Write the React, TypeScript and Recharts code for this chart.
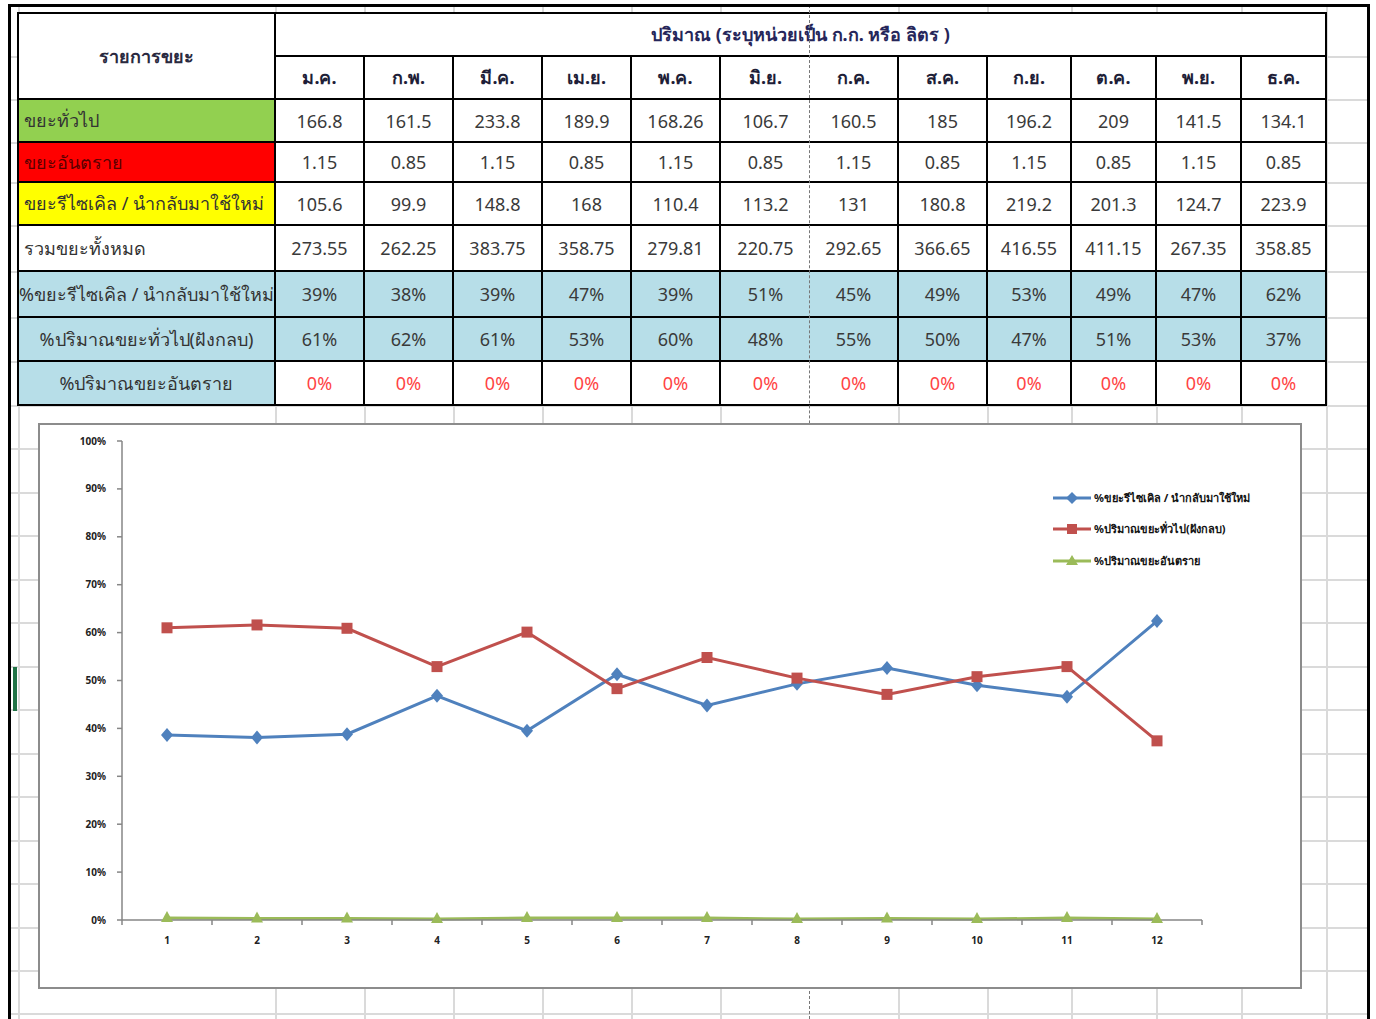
import { LineChart, Line, XAxis, YAxis } from 'recharts'

const months = ['ม.ค.', 'ก.พ.', 'มี.ค.', 'เม.ย.', 'พ.ค.', 'มิ.ย.', 'ก.ค.', 'ส.ค.', 'ก.ย.', 'ต.ค.', 'พ.ย.', 'ธ.ค.']
const generalKg = ['166.8', '161.5', '233.8', '189.9', '168.26', '106.7', '160.5', '185', '196.2', '209', '141.5', '134.1']
const hazardKg = ['1.15', '0.85', '1.15', '0.85', '1.15', '0.85', '1.15', '0.85', '1.15', '0.85', '1.15', '0.85']
const recycleKg = ['105.6', '99.9', '148.8', '168', '110.4', '113.2', '131', '180.8', '219.2', '201.3', '124.7', '223.9']
const totalKg = ['273.55', '262.25', '383.75', '358.75', '279.81', '220.75', '292.65', '366.65', '416.55', '411.15', '267.35', '358.85']
const recycleLabels = ['39%', '38%', '39%', '47%', '39%', '51%', '45%', '49%', '53%', '49%', '47%', '62%']
const generalLabels = ['61%', '62%', '61%', '53%', '60%', '48%', '55%', '50%', '47%', '51%', '53%', '37%']
const hazardLabels = ['0%', '0%', '0%', '0%', '0%', '0%', '0%', '0%', '0%', '0%', '0%', '0%']

// chart series (percent of total)
const chartCats = ['1', '2', '3', '4', '5', '6', '7', '8', '9', '10', '11', '12']
const recyclePct = [38.6, 38.1, 38.8, 46.8, 39.5, 51.3, 44.8, 49.3, 52.6, 49.0, 46.6, 62.4]
const generalPct = [61.0, 61.6, 60.9, 52.9, 60.1, 48.3, 54.8, 50.5, 47.1, 50.8, 52.9, 37.4]
const hazardPct = [0.4, 0.3, 0.3, 0.2, 0.4, 0.4, 0.4, 0.2, 0.3, 0.2, 0.4, 0.2]
const yTicks = [0, 10, 20, 30, 40, 50, 60, 70, 80, 90, 100]

const seriesNames = ['%ขยะรีไซเคิล / นำกลับมาใช้ใหม่', '%ปริมาณขยะทั่วไป(ฝังกลบ)', '%ปริมาณขยะอันตราย']

const data = chartCats.map((c, i) => ({
  cat: c,
  recycle: recyclePct[i],
  general: generalPct[i],
  hazard: hazardPct[i],
}))

const BLUE = '#4F81BD'
const RED = '#C0504D'
const GREEN = '#9BBB59'
const FONT = "Tahoma, 'Noto Sans', 'DejaVu Sans', sans-serif"

const colEdges = [19, 276, 365, 454, 543, 632, 721, 810, 899, 988, 1072, 1157, 1242, 1327]
const rowEdges = [14, 57, 100, 143, 183, 226, 272, 318, 362, 406]
const gridRows = [57, 100, 143, 183, 226, 272, 318, 362, 406, 449, 493, 536, 580, 623, 667, 710, 754, 797, 841, 884, 928, 971, 1014]
const gridCols = [19, 276, 365, 454, 543, 632, 721, 899, 988, 1072, 1157, 1242, 1327]
const PAGE_BREAK = 810

function Diamond(p: any) {
  const { cx, cy, index } = p
  if (cx == null) return <g key={index} />
  return <polygon key={index} points={`${cx},${cy - 7} ${cx + 6},${cy} ${cx},${cy + 7} ${cx - 6},${cy}`} fill={BLUE} />
}
function Square(p: any) {
  const { cx, cy, index } = p
  if (cx == null) return <g key={index} />
  return <rect key={index} x={cx - 5.5} y={cy - 5.5} width={11} height={11} fill={RED} />
}
function Triangle(p: any) {
  const { cx, cy, index } = p
  if (cx == null) return <g key={index} />
  return <polygon key={index} points={`${cx},${cy - 7} ${cx + 6},${cy + 4} ${cx - 6},${cy + 4}`} fill={GREEN} />
}

const HALF_BAND = 45

function XTick({ x, y, payload, index }: any) {
  return (
    <g>
      <line x1={x - HALF_BAND} x2={x - HALF_BAND} y1={y} y2={y + 5} stroke="#868686" strokeWidth={1.5} />
      {index === chartCats.length - 1 && (
        <line x1={x + HALF_BAND} x2={x + HALF_BAND} y1={y} y2={y + 5} stroke="#868686" strokeWidth={1.5} />
      )}
      <text x={x} y={y + 24} textAnchor="middle" fontSize={10} fontWeight="bold" fill="#222" fontFamily={FONT}>
        {payload.value}
      </text>
    </g>
  )
}

function Cell({ c0, c1, r0, r1, bg, children, align = 'center', color = '#3a3a3a', weight = 'normal', size = 18 }: any) {
  const left = colEdges[c0]
  const top = rowEdges[r0]
  const noRight = colEdges[c1] === PAGE_BREAK
  return (
    <div
      style={{
        position: 'absolute',
        left,
        top,
        width: colEdges[c1] - left,
        height: rowEdges[r1] - top,
        boxSizing: 'border-box',
        borderRight: noRight ? 'none' : '2px solid #000',
        borderBottom: '2px solid #000',
        background: bg || '#fff',
        display: 'flex',
        alignItems: 'center',
        justifyContent: align === 'left' ? 'flex-start' : 'center',
        paddingLeft: align === 'left' ? 5 : 0,
        overflow: 'hidden',
        whiteSpace: 'nowrap',
        color,
        fontWeight: weight,
        fontSize: size,
        fontFamily: FONT,
      }}
    >
      {children}
    </div>
  )
}

function DataRow({ r, label, values, labelBg, cellBg, labelAlign = 'left', labelColor = '#333', valueColor = '#3a3a3a' }: any) {
  return (
    <>
      <Cell c0={0} c1={1} r0={r} r1={r + 1} bg={labelBg} align={labelAlign} color={labelColor}>{label}</Cell>
      {values.map((v: string, i: number) => (
        <Cell key={i} c0={i + 1} c1={i + 2} r0={r} r1={r + 1} bg={cellBg} color={valueColor}>{v}</Cell>
      ))}
    </>
  )
}

function LegendItem({ top, color, shape, label }: any) {
  return (
    <div style={{ position: 'absolute', left: 1053, top, display: 'flex', alignItems: 'center', gap: 3 }}>
      <svg width={38} height={14}>
        <line x1={0} x2={38} y1={7} y2={7} stroke={color} strokeWidth={3} />
        {shape === 'diamond' && <polygon points="19,1 25,7 19,13 13,7" fill={color} />}
        {shape === 'square' && <rect x={14} y={2} width={10} height={10} fill={color} />}
        {shape === 'triangle' && <polygon points="19,1 25,11 13,11" fill={color} />}
      </svg>
      <span style={{ fontSize: 11, fontFamily: FONT, color: '#111', fontWeight: 'bold' }}>{label}</span>
    </div>
  )
}

export default function App() {
  return (
    <div style={{ position: 'absolute', left: 0, top: 0, width: 1376, height: 1019, background: '#fff', overflow: 'hidden' }}>
      {/* sheet gridlines */}
      {gridRows.map((y) => (
        <div key={'h' + y} style={{ position: 'absolute', left: 9, top: y - 1, width: 1360, height: 2, background: '#dadada' }} />
      ))}
      {gridCols.map((x) => (
        <div key={'v' + x} style={{ position: 'absolute', left: x - 1, top: 5, width: 2, height: 1014, background: '#dadada' }} />
      ))}
      <div style={{ position: 'absolute', left: 13, top: 667, width: 4, height: 44, background: '#217346' }} />

      {/* table */}
      <div style={{ position: 'absolute', left: 17, top: 12, width: 1310, height: 2, background: '#000' }} />
      <div style={{ position: 'absolute', left: 17, top: 12, width: 2, height: 394, background: '#000' }} />
      <Cell c0={0} c1={1} r0={0} r1={2} color="#2a2a40" weight="bold" size={18}>รายการขยะ</Cell>
      <Cell c0={1} c1={13} r0={0} r1={1} color="#26265a" weight="bold" size={18}>ปริมาณ (ระบุหน่วยเป็น ก.ก. หรือ ลิตร )</Cell>
      {months.map((m, i) => (
        <Cell key={m} c0={i + 1} c1={i + 2} r0={1} r1={2} color="#1e1e38" weight="bold" size={18}>{m}</Cell>
      ))}
      <DataRow r={2} label="ขยะทั่วไป" labelBg="#92D050" values={generalKg} />
      <DataRow r={3} label="ขยะอันตราย" labelBg="#FF0000" labelColor="#5a0000" values={hazardKg} />
      <DataRow r={4} label="ขยะรีไซเคิล / นำกลับมาใช้ใหม่" labelBg="#FFFF00" values={recycleKg} />
      <DataRow r={5} label="รวมขยะทั้งหมด" values={totalKg} />
      <DataRow r={6} label="%ขยะรีไซเคิล / นำกลับมาใช้ใหม่" labelBg="#B7DEE8" cellBg="#B7DEE8" labelAlign="center" values={recycleLabels} />
      <DataRow r={7} label="%ปริมาณขยะทั่วไป(ฝังกลบ)" labelBg="#B7DEE8" cellBg="#B7DEE8" labelAlign="center" values={generalLabels} />
      <DataRow r={8} label="%ปริมาณขยะอันตราย" labelBg="#B7DEE8" labelAlign="center" valueColor="#ff4444" values={hazardLabels} />

      {/* page break */}
      <div style={{ position: 'absolute', left: PAGE_BREAK - 1, top: 5, width: 0, height: 1014, borderLeft: '1.5px dashed #777' }} />

      {/* outer frame */}
      <div style={{ position: 'absolute', left: 9, top: 4, width: 1360, height: 3, background: '#000' }} />
      <div style={{ position: 'absolute', left: 8, top: 4, width: 3, height: 1015, background: '#000' }} />
      <div style={{ position: 'absolute', left: 1367, top: 4, width: 3, height: 1015, background: '#000' }} />

      {/* chart */}
      <div style={{ position: 'absolute', left: 40, top: 425, width: 1260, height: 562, background: '#fff', boxShadow: '0 0 0 2px #8c8c8c' }}>
        <LineChart width={1260} height={562} data={data} margin={{ top: 16, right: 98, left: 0, bottom: 37 }}>
          <XAxis
            dataKey="cat"
            padding={{ left: HALF_BAND, right: HALF_BAND }}
            height={30}
            tickSize={0}
            tickMargin={0}
            tickLine={false}
            tick={<XTick />}
            interval={0}
            axisLine={{ stroke: '#868686', strokeWidth: 1.5 }}
          />
          <YAxis
            width={82}
            domain={[0, 100]}
            ticks={yTicks}
            interval={0}
            tickFormatter={(v: number) => `${v}%`}
            tickSize={5}
            tickMargin={11}
            tickLine={{ stroke: '#868686', strokeWidth: 1.5 }}
            axisLine={{ stroke: '#868686', strokeWidth: 1.5 }}
            tick={{ fontSize: 10, fontWeight: 'bold', fill: '#222', fontFamily: FONT }}
          />
          <Line dataKey="recycle" name={seriesNames[0]} stroke={BLUE} strokeWidth={3} dot={Diamond} activeDot={false} isAnimationActive={false} />
          <Line dataKey="general" name={seriesNames[1]} stroke={RED} strokeWidth={3} dot={Square} activeDot={false} isAnimationActive={false} />
          <Line dataKey="hazard" name={seriesNames[2]} stroke={GREEN} strokeWidth={3} dot={Triangle} activeDot={false} isAnimationActive={false} />
        </LineChart>
      </div>
      <LegendItem top={489} color={BLUE} shape="diamond" label={seriesNames[0]} />
      <LegendItem top={520} color={RED} shape="square" label={seriesNames[1]} />
      <LegendItem top={552} color={GREEN} shape="triangle" label={seriesNames[2]} />
    </div>
  )
}
